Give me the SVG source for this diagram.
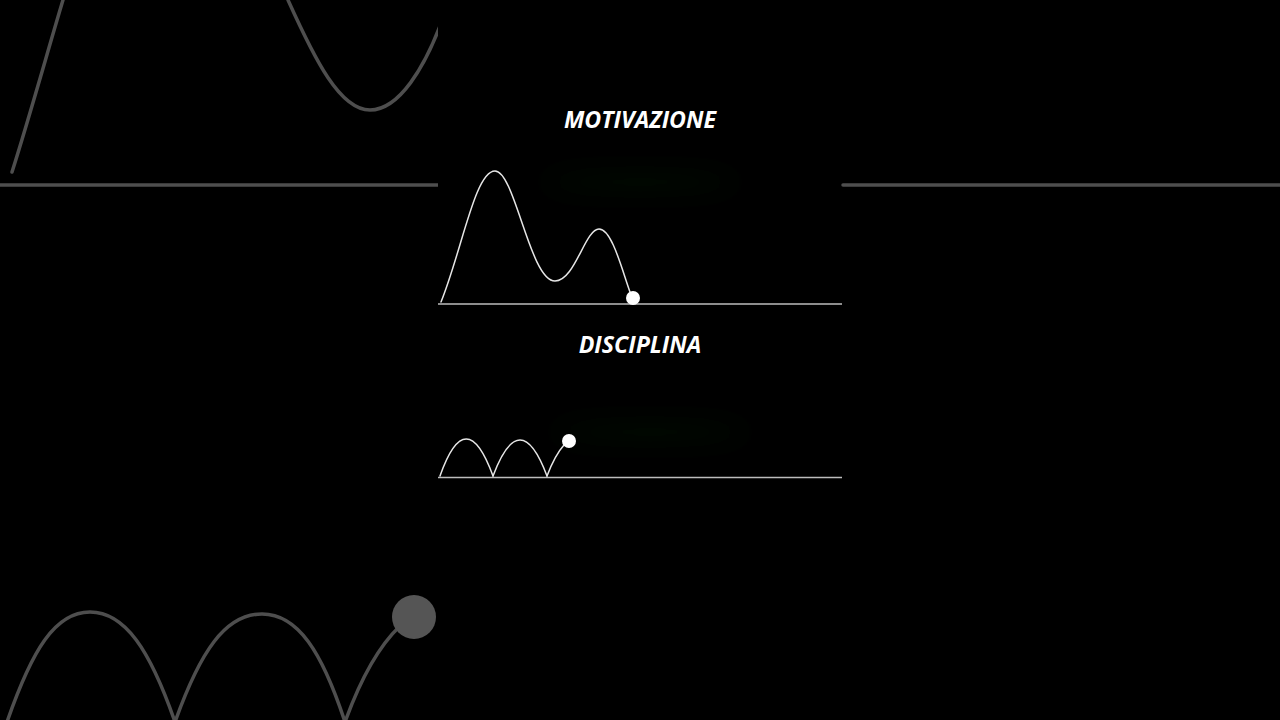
<svg xmlns="http://www.w3.org/2000/svg" width="1280" height="720" viewBox="0 0 1280 720">
  <defs>
    <filter id="blur" x="-50%" y="-100%" width="200%" height="300%">
      <feGaussianBlur stdDeviation="14"/>
    </filter>
    <clipPath id="leftClip"><rect x="0" y="0" width="438" height="720"/></clipPath>
  </defs>
  <style>
    .bg { fill: none; stroke: #4e4e4e; stroke-width: 3.5; stroke-linecap: round; }
    .fg { fill: none; stroke: #e6e6e6; stroke-width: 1.5; stroke-linecap: round; }
    .base { stroke: #bdbdbd; stroke-width: 1.5; }
    .title { font-family: "Open Sans", "Noto Sans", sans-serif; font-weight: 700; font-style: italic; font-size: 23.2px; fill: #ffffff; text-anchor: middle; }
  </style>
  <rect x="0" y="0" width="1280" height="720" fill="#000000"/>

  <g id="background-left" clip-path="url(#leftClip)">
    <path class="bg" d="M12,172 C30,115 48,50 63,0"/>
    <path class="bg" d="M288,0 C315,60 340,110 370,110 C400,110 425,65 440,26"/>
    <line class="bg" x1="0" y1="185" x2="438" y2="185"/>
    <path class="bg" d="M7,722 C32,650 55,612 90,612 C125,612 150,650 175,722"/>
    <path class="bg" d="M175,722 C200,652 225,614 262,614 C298,614 322,652 345,722"/>
    <path class="bg" d="M345,722 C362,675 380,645 400,626"/>
    <circle cx="414" cy="617" r="22" fill="#555555"/>
  </g>
  <g id="background-right">
    <line class="bg" x1="843" y1="185" x2="1280" y2="185"/>
  </g>

  <g id="glow" filter="url(#blur)" opacity="0.35">
    <ellipse cx="640" cy="182" rx="100" ry="8" fill="#0f2a0f"/>
    <ellipse cx="650" cy="432" rx="100" ry="8" fill="#0f2a0f"/>
  </g>

  <g id="motivazione">
    <text class="title" x="640" y="128">MOTIVAZIONE</text>
    <line class="base" x1="438" y1="304" x2="842" y2="304"/>
    <path class="fg" d="M441,302 C462,250 475,171 495,171 C515,171 530,281 555,281 C575,281 585,229 599,229 C612,229 622,270 630,292"/>
    <circle cx="633" cy="298" r="7" fill="#ffffff"/>
  </g>

  <g id="disciplina">
    <text class="title" x="640" y="353">DISCIPLINA</text>
    <line class="base" x1="438" y1="477.5" x2="842" y2="477.5"/>
    <path class="fg" d="M440,476 Q466,402 493,476"/>
    <path class="fg" d="M493,476 Q520,404 547,476"/>
    <path class="fg" d="M547,476 Q555,455 564,445"/>
    <circle cx="569" cy="441" r="7" fill="#ffffff"/>
  </g>
</svg>
